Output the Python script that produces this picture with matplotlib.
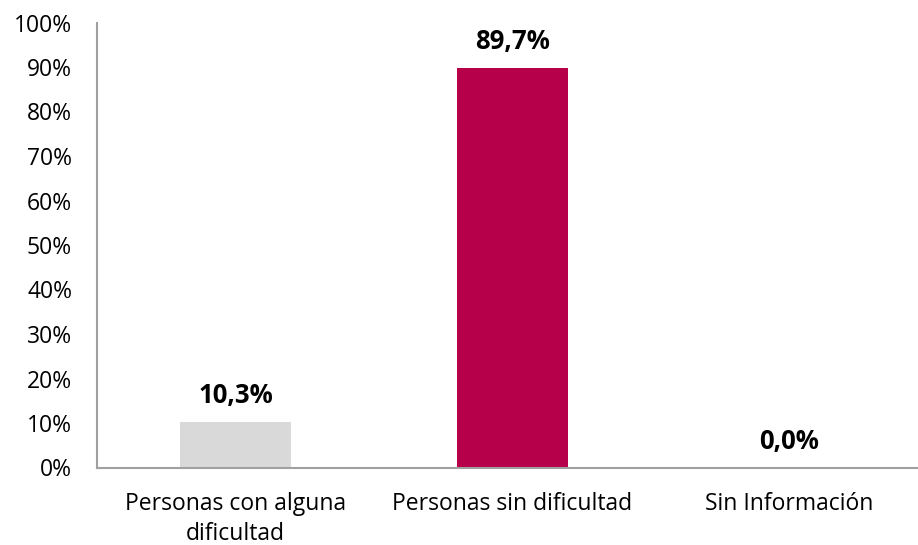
import matplotlib.pyplot as plt
import numpy as np

plt.rcParams['font.family'] = ['Open Sans', 'DejaVu Sans']

categorias = ["Personas con alguna\ndificultad", "Personas sin dificultad", "Sin Información"]
valores = [10.3, 89.7, 0.0]
etiquetas = ["10,3%", "89,7%", "0,0%"]
colores = ["#d9d9d9", "#b7004a", "#d9d9d9"]

fig = plt.figure(figsize=(9.18, 5.45), dpi=100)
ax = fig.add_axes([97 / 918, 77.5 / 545, 831 / 918, 445 / 545])

x = np.arange(len(categorias))
bars = ax.bar(x, valores, width=0.4, color=colores)

for b, lab in zip(bars, etiquetas):
    ax.annotate(lab, (b.get_x() + b.get_width() / 2, b.get_height()),
                xytext=(0, 19), textcoords="offset points",
                ha="center", va="center", fontsize=18.5, fontweight="bold")

ax.set_xlim(-0.5, 2.5)
ax.set_ylim(0, 100)
ax.set_yticks(np.arange(0, 101, 10))
ax.set_yticklabels([f"{v}%" for v in range(0, 101, 10)])
ax.set_xticks(x)
ax.set_xticklabels(categorias, linespacing=1.3, multialignment="center")
ax.tick_params(axis="y", length=0, pad=18, labelsize=16.5)
ax.tick_params(axis="x", length=0, pad=18, labelsize=16.5)

for s in ["top", "right"]:
    ax.spines[s].set_visible(False)
for s in ["left", "bottom"]:
    ax.spines[s].set_color("#a0a0a0")
    ax.spines[s].set_linewidth(1.5)

fig.savefig("out.png", dpi=100)
